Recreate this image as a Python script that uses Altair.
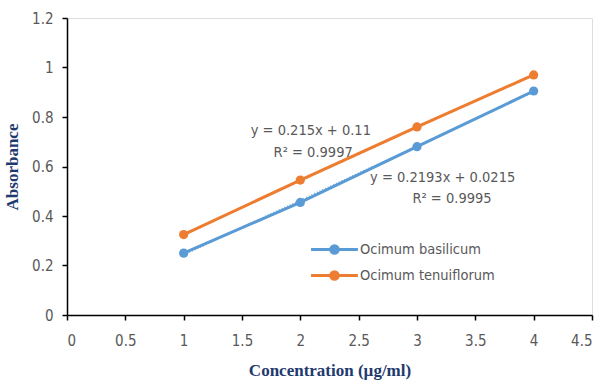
import altair as alt
import pandas as pd

concentration = [1, 2, 3, 4]
basilicum = [0.25, 0.455, 0.68, 0.905]
tenuiflorum = [0.325, 0.545, 0.76, 0.97]
series_names = ["Ocimum basilicum", "Ocimum tenuiflorum"]
series_colors = ["#5B9BD5", "#ED7D31"]

ann_text = ["y = 0.215x + 0.11", "R² = 0.9997", "y = 0.2193x + 0.0215", "R² = 0.9995"]
ann_x = [2.09, 2.11, 3.22, 3.30]
ann_y = [0.745, 0.655, 0.555, 0.467]

x_ticks = [0, 0.5, 1, 1.5, 2, 2.5, 3, 3.5, 4, 4.5]
y_ticks = [0, 0.2, 0.4, 0.6, 0.8, 1, 1.2]

df = pd.DataFrame({
    "x": concentration * 2,
    "y": basilicum + tenuiflorum,
    "s": [series_names[0]] * 4 + [series_names[1]] * 4,
})
ann = pd.DataFrame({"t": ann_text, "x": ann_x, "y": ann_y})

FONT = "Liberation Sans Narrow, DejaVu Sans Condensed, sans-serif"
TFONT = "Liberation Serif"
NAVY = "#1F3A6E"

legend_path = ("M-2,0L2,0 "
               "M0.32,0A0.32,0.32 0 1,1 -0.32,0A0.32,0.32 0 1,1 0.32,0 "
               "M0.14,0A0.14,0.14 0 1,1 -0.14,0A0.14,0.14 0 1,1 0.14,0")

xs = alt.X("x:Q", scale=alt.Scale(domain=[0, 4.5], nice=False),
           axis=alt.Axis(values=x_ticks, title="Concentration (µg/ml)", grid=False,
                         labelExpr="'' + datum.value",
                         labelFont=FONT, labelFontSize=15, labelColor="#595959",
                         labelPadding=13, tickSize=5, tickColor="black", domainColor="black",
                         domainWidth=1.5, tickWidth=1.5,
                         titleFont=TFONT, titleFontSize=17, titleFontWeight="bold",
                         titleColor=NAVY, titlePadding=14))
ys = alt.Y("y:Q", scale=alt.Scale(domain=[0, 1.2], nice=False),
           axis=alt.Axis(values=y_ticks, title="Absorbance", grid=False,
                         labelExpr="'' + datum.value",
                         labelFont=FONT, labelFontSize=15, labelColor="#595959",
                         labelPadding=9, tickSize=5, tickColor="black", domainColor="black",
                         domainWidth=1.5, tickWidth=1.5,
                         titleFont=TFONT, titleFontSize=17, titleFontWeight="bold",
                         titleColor=NAVY, titlePadding=10))

color = alt.Color("s:N", scale=alt.Scale(domain=series_names, range=series_colors),
                  legend=alt.Legend(title=None, orient="none", legendX=254, legendY=218,
                                    symbolType=legend_path, symbolSize=550,
                                    symbolStrokeWidth=3, labelFont=FONT, labelFontSize=14.5,
                                    labelColor="#595959", rowPadding=2, labelOffset=12))

base = alt.Chart(df)
lines = base.mark_line(strokeWidth=3).encode(x=xs, y=ys, color=color)
pts = base.mark_circle(size=85, opacity=1).encode(x="x:Q", y="y:Q",
                                                  color=alt.Color("s:N", legend=None))
trend = base.transform_regression("x", "y", groupby=["s"]).mark_line(
    strokeWidth=2, strokeDash=[1, 2], opacity=0.8).encode(
    x="x:Q", y="y:Q", color=alt.Color("s:N", legend=None))
texts = alt.Chart(ann).mark_text(font=FONT, fontSize=14.5, color="#595959").encode(
    x="x:Q", y="y:Q", text="t:N")

chart = alt.layer(lines, trend, pts, texts).properties(
    width=525, height=297,
    autosize=alt.AutoSizeParams(type="none"),
    padding={"left": 67, "top": 18, "right": 11, "bottom": 67},
).configure_view(stroke=None).configure(background="white")

chart.save("out.html", embed_options={"renderer": "svg", "actions": False})
